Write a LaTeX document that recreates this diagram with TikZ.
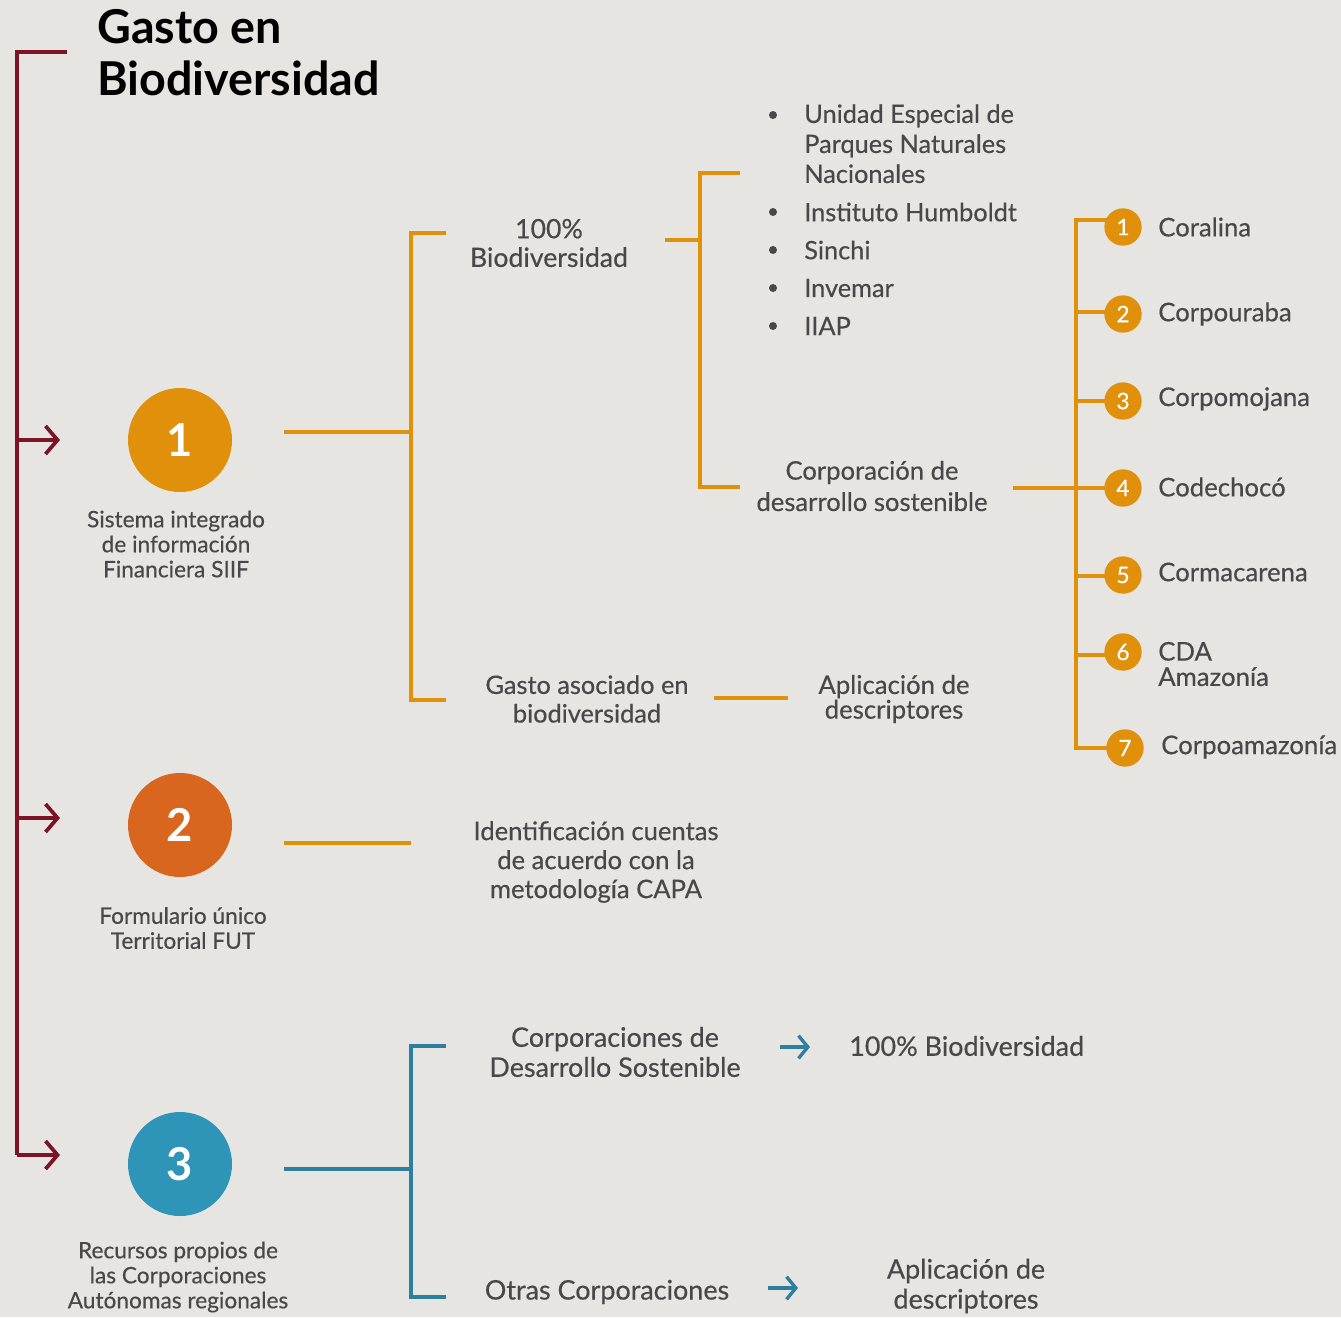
\documentclass[tikz,border=0pt]{standalone}
\usepackage{fontspec}
\setmainfont{Lato}[UprightFeatures={FakeBold=0.4}]
\usetikzlibrary{arrows.meta}
\pgfdeclarelayer{bgl}
\pgfdeclarelayer{lines}
\pgfsetlayers{bgl,lines,main}
\definecolor{bg}{HTML}{E6E5E2}
\definecolor{dred}{HTML}{7C1426}
\definecolor{org}{HTML}{E0900A}
\definecolor{org2}{HTML}{D9661F}
\definecolor{blu}{HTML}{2E94B8}
\definecolor{tealc}{HTML}{2C7F9E}
\definecolor{txt}{HTML}{484848}
\tikzset{
  x=0.75pt, y=-0.75pt,
  redline/.style={draw=dred, line width=2.8pt},
  redarrow/.style={redline, -{Straight Barb[length=9pt,width=21pt,line width=2.8pt]}},
  orgline/.style={draw=org, line width=2.5pt},
  tealline/.style={draw=tealc, line width=2.5pt},
  tealarrow/.style={tealline, -{Straight Barb[length=7pt,width=17pt,line width=2.5pt]}},
  bigcirc/.style={circle, minimum size=78pt, inner sep=0pt, text=white, font=\fontsize{34}{34}\selectfont\bfseries},
  smallcirc/.style={circle, fill=org, minimum size=28pt, inner sep=0pt, text=white, font=\fontsize{17}{17}\selectfont},
  lbl/.style={text=txt, align=center, inner sep=0pt, font=\fontsize{17}{18.75}\selectfont},
  mid/.style={text=txt, align=center, inner sep=0pt, font=\fontsize{19.5}{21.5}\selectfont},
  rl/.style={text=txt, align=left, anchor=west, inner sep=0pt, font=\fontsize{19.3}{19}\selectfont},
  bul/.style={circle, fill=txt, minimum size=6pt, inner sep=0pt},
}
\begin{document}
\begin{tikzpicture}
\begin{pgfonlayer}{bgl}
\fill[bg] (0,0) rectangle (1341,1317);
\end{pgfonlayer}
\useasboundingbox (0,0) rectangle (1341,1317);

% title
\node[anchor=west, inner sep=0pt, align=left, font=\fontsize{35}{39}\selectfont\bfseries, text=black] (title) at (97,53) {Gasto en\\Biodiversidad};

% red spine
\coordinate (rtop) at (67,52);
\coordinate (rc1) at (17,52);
\coordinate (b1) at (17,440);
\coordinate (b2) at (17,818);
\coordinate (b3) at (17,1155);
\coordinate (a1) at (60,440);
\coordinate (a2) at (60,818);
\coordinate (a3) at (60,1155);
\draw[redline] (rtop) -- (rc1) -- (b3);
\draw[redarrow] (b1) -- (a1);
\draw[redarrow] (b2) -- (a2);
\draw[redarrow] (b3) -- (a3);

% big circles
\node[bigcirc, fill=org] (c1) at (180,440) {1};
\node[bigcirc, fill=org2] (c2) at (180,825) {2};
\node[bigcirc, fill=blu] (c3) at (180,1164) {3};
\node[lbl] (l1) at (176,544) {Sistema integrado\\de información\\Financiera SIIF};
\node[lbl] (l2) at (183,928) {Formulario único\\Territorial FUT};
\node[lbl] (l3) at (178,1277) {Recursos propios de\\las Corporaciones\\Autónomas regionales};

% branch 1
\coordinate (o1s) at (284,432);
\coordinate (o1e) at (411,432);
\draw[orgline] (o1s) -- (o1e);
\coordinate (br1t) at (446,233);
\coordinate (br1b) at (446,700);
\draw[orgline] (br1t) -- (411,233) -- (411,700) -- (br1b);

\node[mid, font=\fontsize{20}{21.5}\selectfont] (bio100) at (549,243) {100\%\\Biodiversidad};
\node[mid, font=\fontsize{19}{21.5}\selectfont] (gasto) at (587,699) {Gasto asociado en\\biodiversidad};

\coordinate (o2s) at (665,240);
\coordinate (o2e) at (700,240);
\draw[orgline] (o2s) -- (o2e);
\coordinate (br2t) at (740,173);
\coordinate (br2b) at (740,487);
\draw[orgline] (br2t) -- (700,173) -- (700,487) -- (br2b);

% bullets
\node[bul] (bu1) at (773,115) {};
\node[bul] (bu2) at (773,212) {};
\node[bul] (bu3) at (773,250) {};
\node[bul] (bu4) at (773,288) {};
\node[bul] (bu5) at (773,326) {};
\node[rl, anchor=north west, font=\fontsize{19}{22.5}\selectfont] (t1) at (804,104) {Unidad Especial de\\Parques Naturales\\Nacionales};
\node[rl, font=\fontsize{19}{19}\selectfont] (t2) at (804,212) {Instituto Humboldt};
\node[rl, font=\fontsize{19}{19}\selectfont] (t3) at (804,250) {Sinchi};
\node[rl, font=\fontsize{19}{19}\selectfont] (t4) at (804,288) {Invemar};
\node[rl, font=\fontsize{19}{19}\selectfont] (t5) at (804,326) {IIAP};

\node[mid, font=\fontsize{19.2}{23.5}\selectfont] (cds) at (872,486) {Corporación de\\desarrollo sostenible};

% corporations list
\node[smallcirc] (s1) at (1123,227) {1};
\node[smallcirc] (s2) at (1123,314) {2};
\node[smallcirc] (s3) at (1123,401) {3};
\node[smallcirc] (s4) at (1123,488) {4};
\node[smallcirc] (s5) at (1123,575) {5};
\node[smallcirc] (s6) at (1123,652) {6};
\node[smallcirc] (s7) at (1125,748) {7};
\coordinate (vt) at (1076,220);
\coordinate (vb) at (1076,748);
\coordinate (v2) at (1076,312);
\coordinate (v3) at (1076,401);
\coordinate (v5) at (1076,576);
\coordinate (v6) at (1076,655);
\coordinate (cdsr) at (1013,488);
\begin{pgfonlayer}{lines}
\draw[orgline] (s1.center |- vt) -- (vt) -- (vb) -- (s7.center);
\draw[orgline] (v2) -- (s2.center |- v2);
\draw[orgline] (v3) -- (s3.center);
\draw[orgline] (v5) -- (s5.center |- v5);
\draw[orgline] (v6) -- (s6.center |- v6);
\draw[orgline] (cdsr) -- (s4.center);
\end{pgfonlayer}

\node[rl] (n1) at (1158,227) {Coralina};
\node[rl] (n2) at (1158,314) {Corpouraba};
\node[rl] (n3) at (1158,399) {Corpomojana};
\node[rl] (n4) at (1158,487) {Codechocó};
\node[rl] (n5) at (1158,572) {Cormacarena};
\node[rl] (n6) at (1158,664) {CDA\\Amazonía};
\node[rl] (n7) at (1161,747) {Corpoamazonía};

% gasto asociado -> aplicacion
\coordinate (g1) at (714,698);
\coordinate (g2) at (788,698);
\draw[orgline] (g1) -- (g2);
\node[mid, font=\fontsize{19.3}{18.5}\selectfont] (apl1) at (894,699) {Aplicación de\\descriptores};

% branch 2
\coordinate (f1) at (284,843);
\coordinate (f2) at (411,843);
\draw[orgline] (f1) -- (f2);
\node[mid, font=\fontsize{19.2}{21.75}\selectfont] (capa) at (596,862) {Identificación cuentas\\de acuerdo con la\\metodología CAPA};

% branch 3
\coordinate (t3s) at (284,1169);
\coordinate (t3e) at (411,1169);
\draw[tealline] (t3s) -- (t3e);
\coordinate (br3t) at (446,1046);
\coordinate (br3b) at (446,1297);
\draw[tealline] (br3t) -- (411,1046) -- (411,1297) -- (br3b);

\node[mid, font=\fontsize{20.2}{22.5}\selectfont] (cdss) at (615,1052) {Corporaciones de\\Desarrollo Sostenible};
\node[mid, font=\fontsize{20.2}{22.5}\selectfont] (otras) at (607,1292) {Otras Corporaciones};
\node[rl, font=\fontsize{20.2}{22.5}\selectfont] (bio2) at (849,1046) {100\% Biodiversidad};
\node[mid, font=\fontsize{20.2}{22.5}\selectfont] (apl2) at (966,1286) {Aplicación de\\descriptores};
\coordinate (ta1) at (780,1047);
\coordinate (ta2) at (810,1047);
\coordinate (tb1) at (768,1288);
\coordinate (tb2) at (798,1288);
\draw[tealarrow] (ta1) -- (ta2);
\draw[tealarrow] (tb1) -- (tb2);
\end{tikzpicture}
\end{document}
